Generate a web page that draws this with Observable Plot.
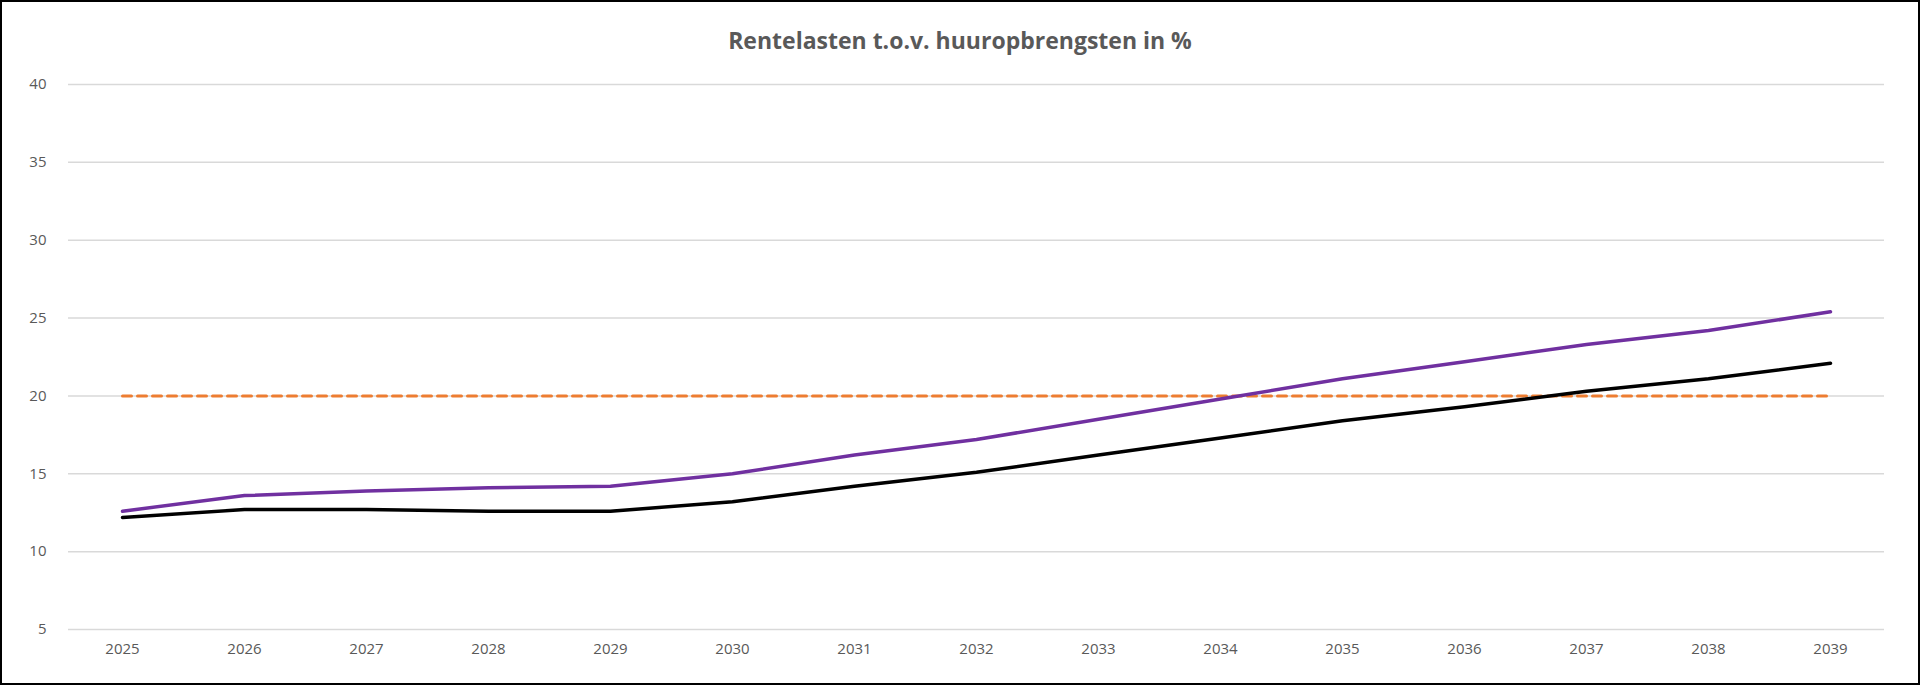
<!DOCTYPE html>
<html><head><meta charset="utf-8">
<script src="https://cdn.jsdelivr.net/npm/d3@7"></script>
<script src="https://cdn.jsdelivr.net/npm/@observablehq/plot@0.6"></script>
<style>
html,body{margin:0;padding:0;background:#fff;}
#wrap{width:1916px;height:681px;border:2px solid #000;overflow:hidden;font-family:"Open Sans",sans-serif;}
#title{height:60px;line-height:76px;text-align:center;font-size:23px;font-weight:bold;color:#595959;}
</style></head><body>
<div id="wrap"><div id="title">Rentelasten t.o.v. huuropbrengsten in %</div><div id="chart"></div></div>
<script>
const years = [2025,2026,2027,2028,2029,2030,2031,2032,2033,2034,2035,2036,2037,2038,2039];
const purple = [12.6,13.6,13.9,14.1,14.2,15.0,16.2,17.2,18.5,19.8,21.1,22.2,23.3,24.2,25.4];
const black = [12.2,12.7,12.7,12.6,12.6,13.2,14.2,15.1,16.2,17.3,18.4,19.3,20.3,21.1,22.1];
const norm = years.map(() => 20);
const yTicks = [5,10,15,20,25,30,35,40];
const rows = (vals) => years.map((y,i) => ({year:String(y), v:vals[i]}));
const plot = Plot.plot({
  width:1916, height:621,
  marginLeft:56, marginRight:24, marginTop:22, marginBottom:54,
  style:{fontFamily:"Open Sans, sans-serif", fontSize:"15px", color:"#595959"},
  x:{type:"point", domain:years.map(String), padding:0.5, label:null, tickSize:0, tickPadding:14},
  y:{domain:[5,40], ticks:yTicks, label:null, tickSize:0, tickPadding:12},
  marks:[
    Plot.ruleY(yTicks, {stroke:"#d9d9d9", strokeWidth:1.5, insetLeft:10, insetRight:10}),
    Plot.line(rows(norm), {x:"year", y:"v", stroke:"#ed7d31", strokeWidth:3, strokeDasharray:"9,6"}),
    Plot.line(rows(black), {x:"year", y:"v", stroke:"#000", strokeWidth:3.5}),
    Plot.line(rows(purple), {x:"year", y:"v", stroke:"#7030a0", strokeWidth:3.5})
  ]
});
document.getElementById("chart").appendChild(plot);
</script></body></html>
